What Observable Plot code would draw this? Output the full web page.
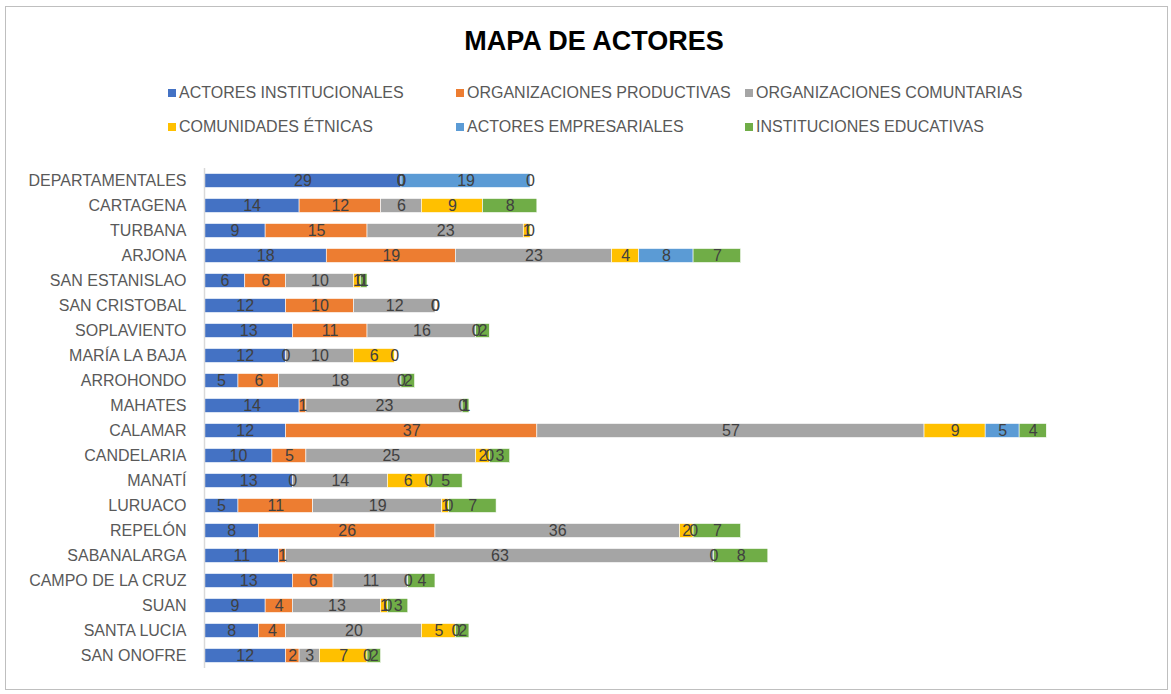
<!DOCTYPE html>
<html><head><meta charset="utf-8">
<script src="https://cdn.jsdelivr.net/npm/d3@7"></script>
<script src="https://cdn.jsdelivr.net/npm/@observablehq/plot@0.6"></script>
<style>
body{margin:0;background:#fff;font-family:"Liberation Sans",Arial,sans-serif;}
#wrap{position:relative;width:1171px;height:694px;overflow:hidden;}
#frame{position:absolute;left:5px;top:6px;width:1163px;height:684px;border:1px solid #bfbfbf;box-sizing:border-box;pointer-events:none;}
#head{position:relative;height:158px;}
#chart svg{display:block;}
#title{position:absolute;left:0;width:1188px;top:26px;text-align:center;font-weight:bold;font-size:27px;color:#000;}
.lg{position:absolute;font-size:16px;color:#595959;white-space:nowrap;line-height:18px;}
.lg i{display:inline-block;width:8px;height:8px;margin-right:3px;vertical-align:1px;}
</style></head>
<body>
<div id="wrap"><div id="head"><div id="title">MAPA DE ACTORES</div></div><div id="chart"></div><div id="frame"></div></div>
<script>
const cities = ["DEPARTAMENTALES","CARTAGENA","TURBANA","ARJONA","SAN ESTANISLAO","SAN CRISTOBAL","SOPLAVIENTO","MARÍA LA BAJA","ARROHONDO","MAHATES","CALAMAR","CANDELARIA","MANATÍ","LURUACO","REPELÓN","SABANALARGA","CAMPO DE LA CRUZ","SUAN","SANTA LUCIA","SAN ONOFRE"];
const seriesNames = ["ACTORES INSTITUCIONALES","ORGANIZACIONES PRODUCTIVAS","ORGANIZACIONES COMUNTARIAS","COMUNIDADES ÉTNICAS","ACTORES EMPRESARIALES","INSTITUCIONES EDUCATIVAS"];
const seriesColors = ["#4472C4","#ED7D31","#A5A5A5","#FFC000","#5B9BD5","#70AD47"];
const institucionales = [29,14,9,18,6,12,13,12,5,14,12,10,13,5,8,11,13,9,8,12];
const productivas     = [0,12,15,19,6,10,11,0,6,1,37,5,0,11,26,1,6,4,4,2];
const comunitarias    = [0,6,23,23,10,12,16,10,18,23,57,25,14,19,36,63,11,13,20,3];
const etnicas         = [0,9,1,4,1,0,0,6,0,0,9,2,6,1,2,null,0,1,5,7];
const empresariales   = [19,null,null,8,0,null,null,null,null,null,5,0,0,0,0,0,null,0,0,0];
const educativas      = [0,8,0,7,1,0,2,0,2,1,4,3,5,7,7,8,4,3,2,2];

const allSeries = [institucionales, productivas, comunitarias, etnicas, empresariales, educativas];
const rows = [];
cities.forEach((c, i) => {
  allSeries.forEach((arr, s) => {
    if (arr[i] !== null) rows.push({city: c, series: seriesNames[s], value: arr[i]});
  });
});

// legend
const head = document.getElementById("head");
const legX = [168, 456, 745];
seriesNames.forEach((n, i) => {
  const d = document.createElement("div");
  d.className = "lg";
  d.style.left = legX[i % 3] + "px";
  d.style.top = (i < 3 ? 84 : 118) + "px";
  d.innerHTML = `<i style="background:${seriesColors[i]}"></i>${n}`;
  head.appendChild(d);
});

const chart = Plot.plot({
  width: 1171,
  height: 536,
  marginTop: 10,
  marginBottom: 26,
  marginLeft: 204,
  marginRight: 16,
  style: {fontFamily: "'Liberation Sans', Arial, sans-serif", background: "transparent"},
  x: {domain: [0, 140], axis: null},
  y: {domain: cities, padding: 0, label: null},
  color: {domain: seriesNames, range: seriesColors},
  marks: [
    Plot.barX(rows, Plot.stackX({x: "value", y: "city", fill: "series", order: seriesNames, stroke: "white", strokeWidth: 0.6, insetTop: 5.5, insetBottom: 5.5})),
    Plot.text(rows, Plot.stackX({x: "value", y: "city", z: "series", order: seriesNames, text: d => String(d.value), fill: "#404040", fontSize: 16})),
    Plot.ruleX([0], {stroke: "#d9d9d9", strokeWidth: 1.5}),
    Plot.axisY({tickSize: 0, tickPadding: 18, fontSize: 16, color: "#595959", label: null})
  ]
});
chart.querySelectorAll("g[aria-label='y-axis tick label'] text").forEach(t => t.setAttribute("fill", "#595959"));
document.getElementById("chart").appendChild(chart);
</script>
</body></html>
